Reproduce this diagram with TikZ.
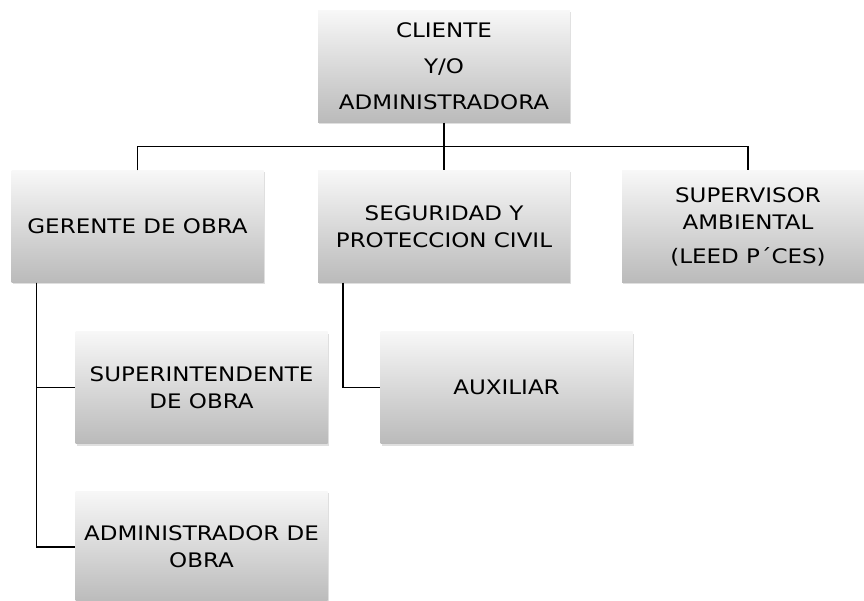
\documentclass[tikz,border=0pt]{standalone}
\usepackage{fontspec}
\setmainfont{DejaVu Sans}[FakeStretch=1.15]
\usetikzlibrary{shadows}
\begin{document}
\begin{tikzpicture}[x=1pt,y=-1pt,
  orgbox/.style={draw=none, top color=black!3, bottom color=black!27,
    drop shadow={shadow xshift=1pt, shadow yshift=-2pt, opacity=0.25},
    minimum width=252pt, minimum height=112pt, inner sep=0pt, align=center,
    font=\fontsize{20}{27}\selectfont},
  conn/.style={draw=black, line width=1.5pt}]
\useasboundingbox (0,0) rectangle (864,601);
\node[orgbox] (top) at (444,66.5) {CLIENTE\\[9pt]Y/O\\[9pt]ADMINISTRADORA};
\node[orgbox] (ger) at (137.5,226.5) {GERENTE DE OBRA};
\node[orgbox] (seg) at (444,226.5) {SEGURIDAD Y\\PROTECCION CIVIL};
\node[orgbox] (sup) at (748,226.5) {SUPERVISOR\\AMBIENTAL\\[7pt](LEED P´CES)};
\node[orgbox] (supi) at (201.5,387.5) {SUPERINTENDENTE\\DE OBRA};
\node[orgbox] (aux) at (506.5,387.5) {AUXILIAR};
\node[orgbox] (adm) at (201.5,547) {ADMINISTRADOR DE\\OBRA};
\draw[conn] (top.south) -- (seg.north);
\draw[conn] (ger.north) -- ++(0,-24) -| (sup.north);
\draw[conn] ([xshift=25pt]ger.south west) |- (supi.west);
\draw[conn] ([xshift=25pt]ger.south west) |- (adm.west);
\draw[conn] ([xshift=25pt]seg.south west) |- (aux.west);
\end{tikzpicture}
\end{document}
